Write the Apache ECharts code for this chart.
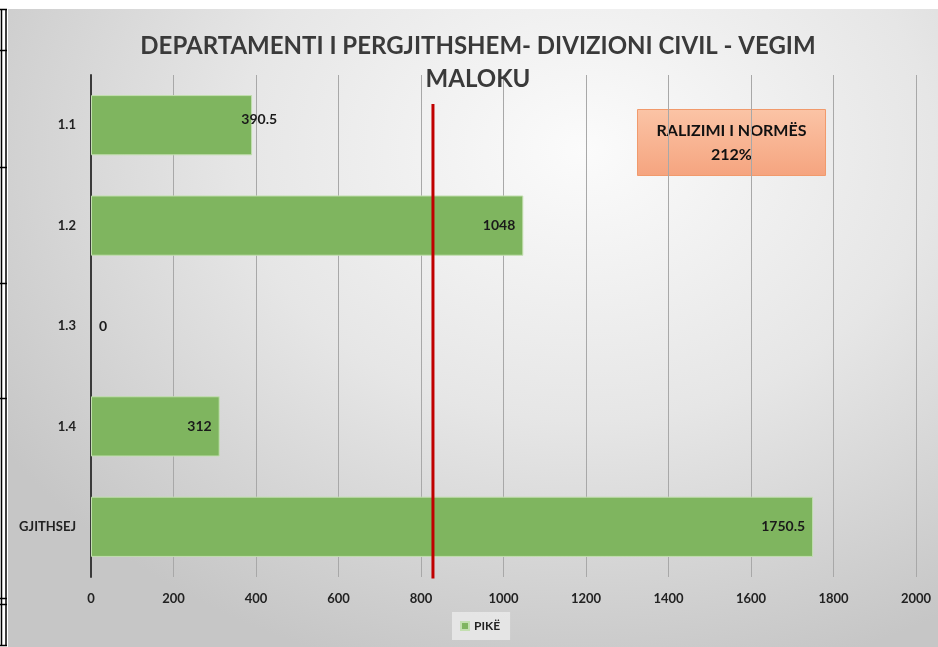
<!DOCTYPE html>
<html>
<head>
<meta charset="utf-8">
<script src="https://cdn.jsdelivr.net/npm/echarts@6/dist/echarts.min.js"></script>
<style>
  html, body { margin: 0; padding: 0; background: #fff; }
  #wrap { position: relative; width: 938px; height: 647px; overflow: hidden; }
  #bg {
    position: absolute; left: 8px; top: 9px; width: 930px; height: 638px;
    background: radial-gradient(ellipse 75% 85% at 62% 22%, #fbfbfb 0%, #e6e6e6 50%, #c6c6c6 100%);
  }
  #main { position: absolute; left: 0; top: 0; width: 938px; height: 647px; }
</style>
</head>
<body>
<div id="wrap">
  <div id="bg"></div>
  <div id="main"></div>
</div>
<script>
// te dhenat
var categories = ['1.1', '1.2', '1.3', '1.4', 'GJITHSEJ'];
var points = [390.5, 1048, 0, 312, 1750.5];
var xTicks = [0, 200, 400, 600, 800, 1000, 1200, 1400, 1600, 1800, 2000];
var normLine = 829;
// shtrirja vertikale e vijes se normes (0 = poshte, 1 = lart i zones)
var normSpan = [0.942, -0.02];
var seriesName = 'PIKË';
var titleText = 'DEPARTAMENTI I PERGJITHSHEM- DIVIZIONI CIVIL - VEGIM\nMALOKU';
var boxText = 'RALIZIMI I NORMËS\n212%';

var font = 'Lato';
var myChart = echarts.init(document.getElementById('main'));

// bordurat e tabeles ne te majte
var borderYs = [9, 50, 167, 283, 398, 598, 604, 645];
var borders = [
  { type: 'line', z: 100, shape: { x1: 1.5, y1: 9, x2: 1.5, y2: 645 }, style: { stroke: '#000', lineWidth: 1.5 } },
  { type: 'line', z: 100, shape: { x1: 6, y1: 9, x2: 6, y2: 645 }, style: { stroke: '#000', lineWidth: 1.5 } }
];
borderYs.forEach(function (y) {
  borders.push({ type: 'line', shape: { x1: 0, y1: y + 0.5, x2: 7, y2: y + 0.5 }, style: { stroke: '#000', lineWidth: 1.5 } });
});

var data = points.map(function (v, i) {
  if (v === 0) {
    return { value: v, itemStyle: { borderWidth: 0 }, label: { position: 'right', distance: 8 } };
  }
  if (v < 400 && v > 350) {
    return { value: v, label: { position: 'insideRight', offset: [33, -6] } };
  }
  return v;
});

myChart.setOption({
  backgroundColor: 'transparent',
  title: {
    text: titleText,
    left: 473,
    textAlign: 'center',
    top: 25,
    textStyle: { fontFamily: font, fontSize: 24, fontWeight: 'bold', color: '#3a3a3a', lineHeight: 33 }
  },
  legend: {
    data: [seriesName],
    left: 452,
    bottom: 7,
    icon: 'rect',
    itemWidth: 8,
    itemHeight: 8,
    itemGap: 6,
    padding: [8, 10, 8, 8],
    backgroundColor: 'rgba(235,235,235,0.8)',
    textStyle: { fontFamily: font, fontSize: 12, fontWeight: 'bold', color: '#222' }
  },
  grid: { left: 91, right: 22, top: 75, bottom: 70 },
  xAxis: {
    type: 'value',
    min: xTicks[0],
    max: xTicks[xTicks.length - 1],
    interval: xTicks[1] - xTicks[0],
    axisLine: { show: false },
    axisTick: { show: false },
    axisLabel: {
      fontFamily: font, fontSize: 13, fontWeight: 'bold', color: '#222', margin: 15,
      formatter: function (v) { return String(v); }
    },
    splitLine: { show: true, lineStyle: { color: '#a8a8a8', width: 1 } }
  },
  yAxis: [{
    type: 'category',
    data: categories,
    inverse: true,
    axisLine: { show: true, lineStyle: { color: '#3a3a3a', width: 2 } },
    axisTick: { show: false },
    axisLabel: { fontFamily: font, fontSize: 13, fontWeight: 'bold', color: '#222', margin: 15 }
  }, {
    type: 'value',
    min: 0,
    max: 1,
    show: false
  }],
  series: [{
    name: seriesName,
    type: 'bar',
    data: data,
    barWidth: '60%',
    itemStyle: { color: '#7fb55f', borderColor: '#c3dfb0', borderWidth: 1 },
    label: {
      show: true,
      position: 'insideRight',
      distance: 8,
      fontFamily: font,
      fontSize: 14,
      fontWeight: 'bold',
      color: '#1a1a1a'
    }
  }, {
    name: 'norma',
    type: 'line',
    yAxisIndex: 1,
    clip: false,
    silent: true,
    symbol: 'none',
    z: 5,
    lineStyle: { color: '#c00000', width: 3 },
    data: normSpan.map(function (s) { return [normLine, s]; })
  }],
  graphic: borders.concat([{
    type: 'group',
    left: 637,
    top: 109,
    children: [{
      type: 'rect',
      shape: { x: 0, y: 0, width: 188, height: 66 },
      style: {
        fill: new echarts.graphic.LinearGradient(0, 0, 0, 1, [
          { offset: 0, color: '#fbc4a6' },
          { offset: 1, color: '#f5a47f' }
        ]),
        stroke: '#f19a6c',
        lineWidth: 1
      }
    }, {
      type: 'text',
      x: 94,
      y: 33,
      style: {
        text: boxText,
        fontFamily: font,
        fontSize: 16,
        fontWeight: 'bold',
        fill: '#111',
        align: 'center',
        verticalAlign: 'middle',
        lineHeight: 24
      }
    }]
  }])
});
</script>
</body>
</html>
